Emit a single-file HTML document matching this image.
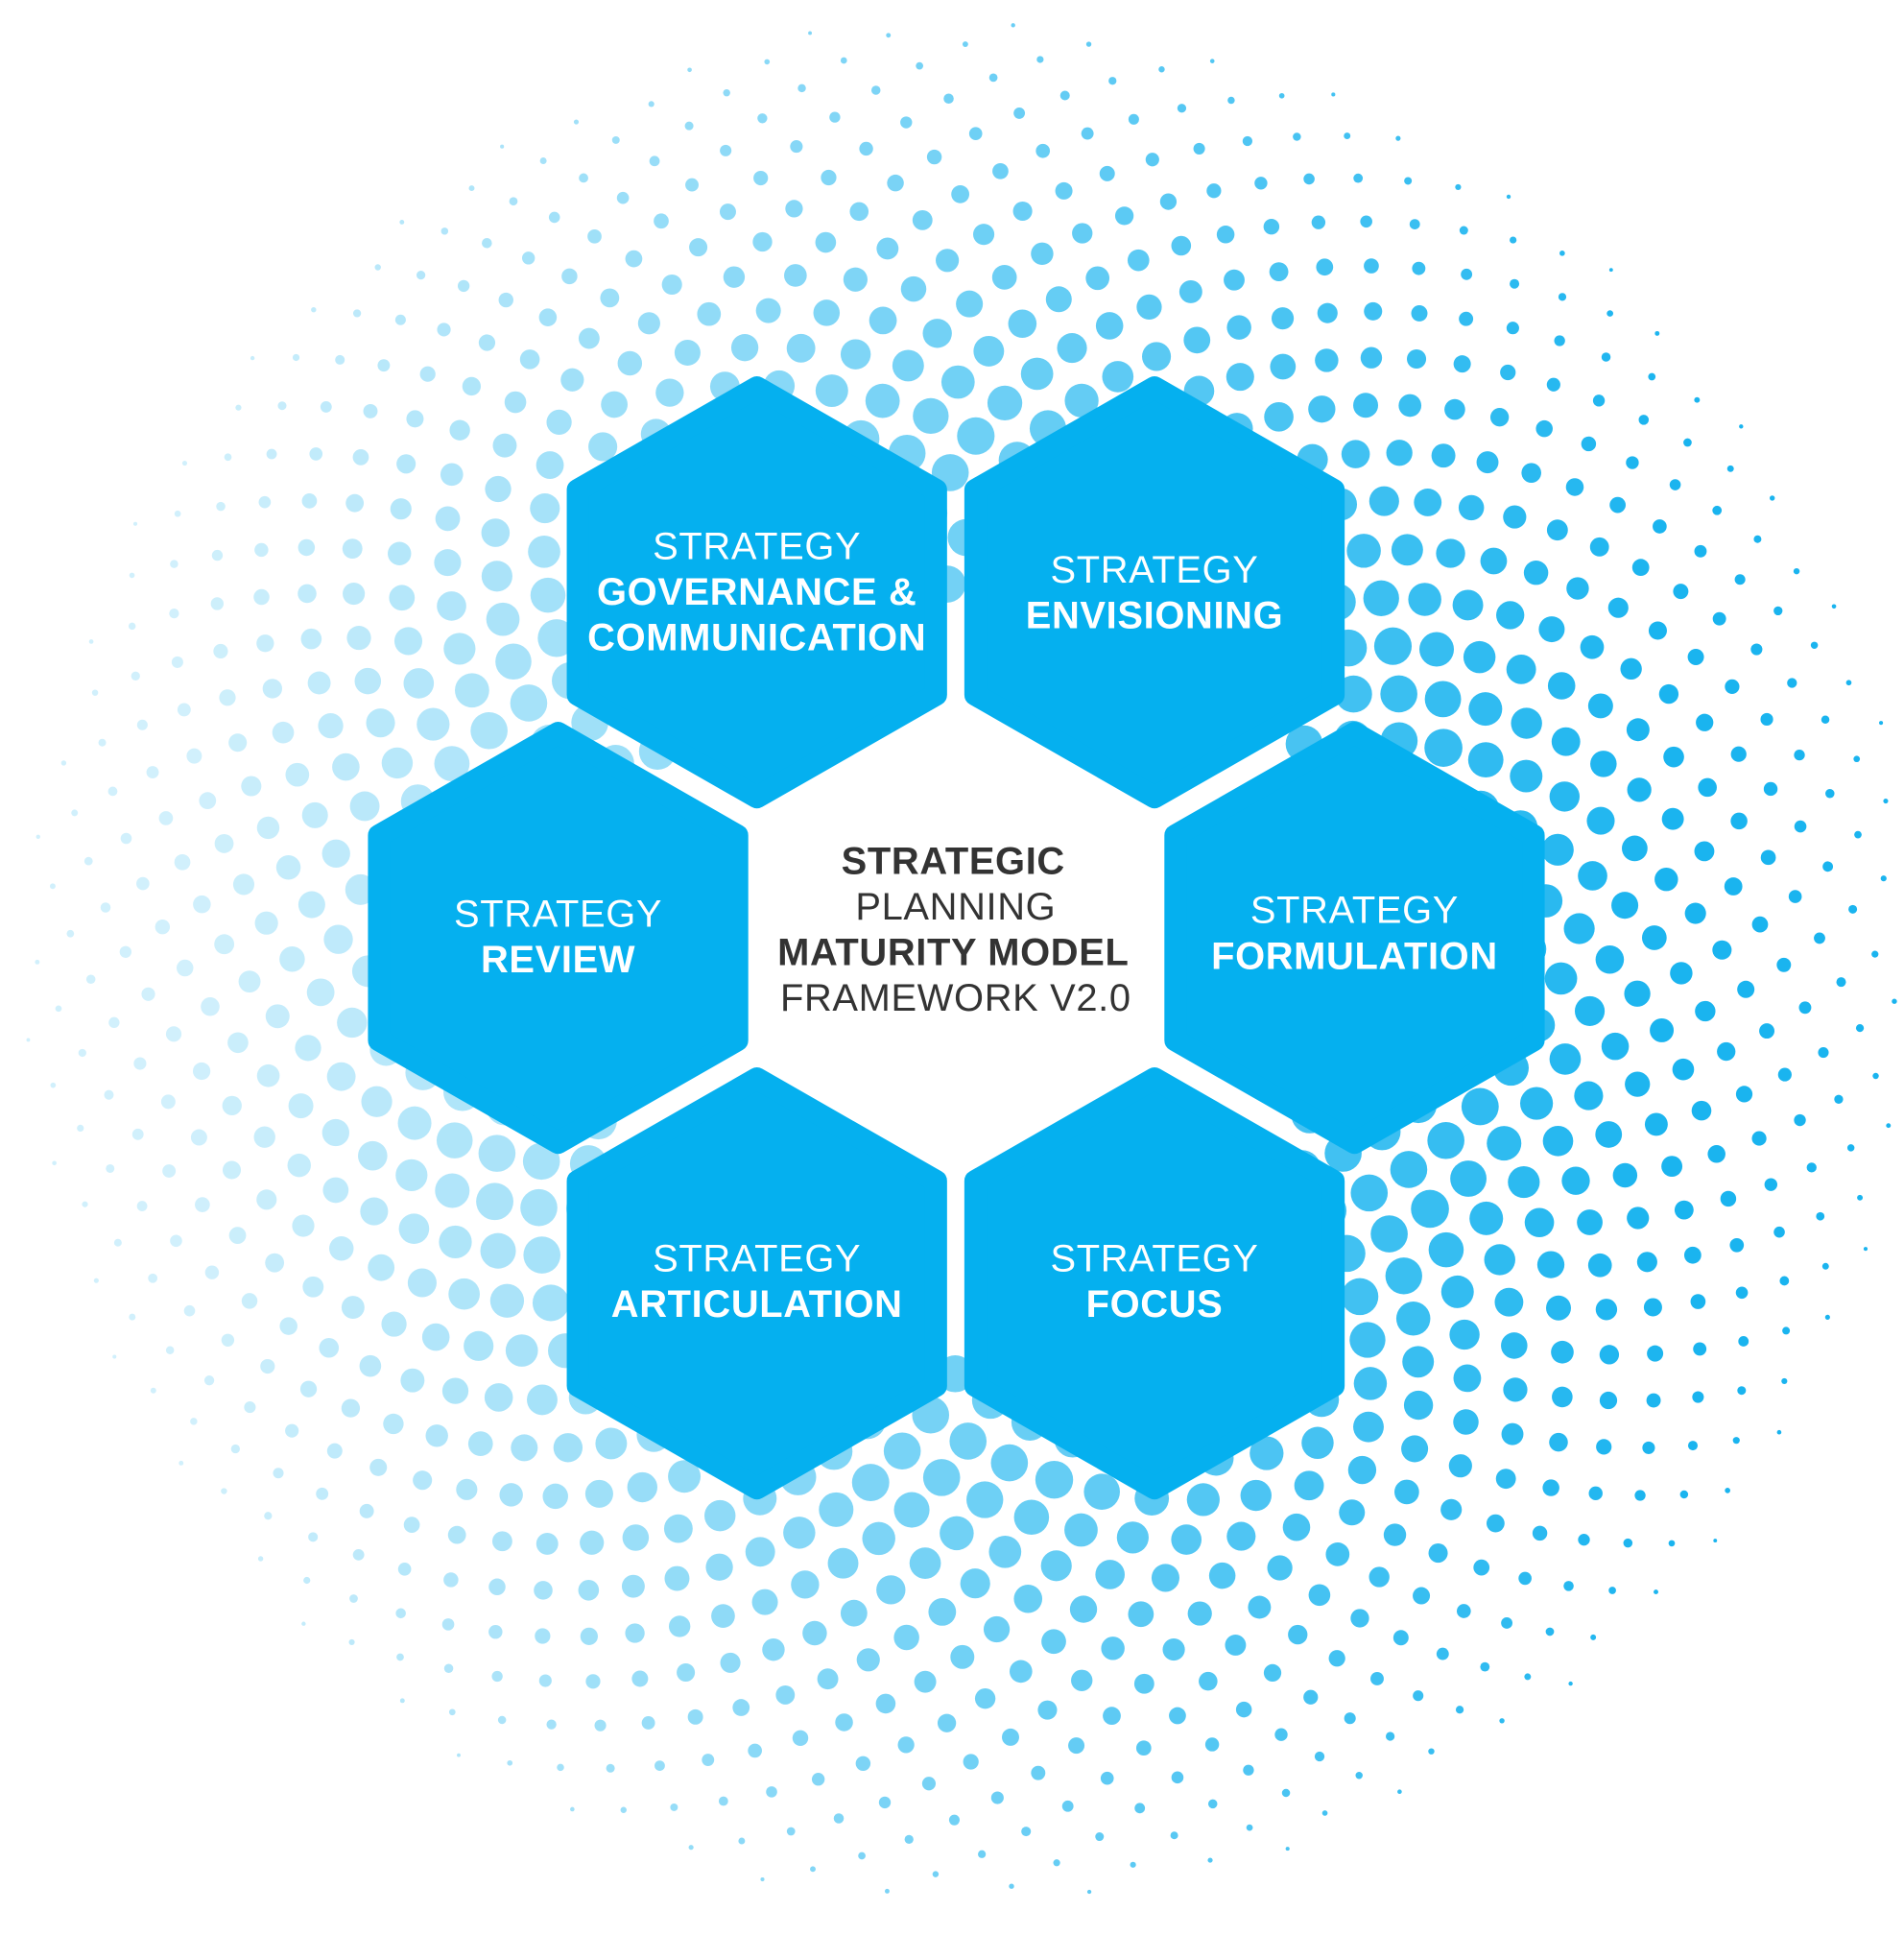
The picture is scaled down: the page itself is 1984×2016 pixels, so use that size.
<!DOCTYPE html>
<html><head><meta charset="utf-8"><style>
html,body{margin:0;padding:0;background:#fff;width:1984px;height:2016px;overflow:hidden}
svg{display:block}
text{font-family:"Liberation Sans",sans-serif;text-anchor:middle}
.w{fill:#fff;font-size:31px;letter-spacing:0.5px}
.b{font-weight:bold}
.d{fill:#333;font-size:31px;letter-spacing:0.5px}
</style></head><body>
<svg id="s" width="1984" height="2016" viewBox="0 0 1542 1568" preserveAspectRatio="none" xmlns="http://www.w3.org/2000/svg">
<g id="dots"></g>
<g id="hex" fill="#05b0ef" stroke="#05b0ef" stroke-width="18" stroke-linejoin="round"></g>
<g>
<text class="w" x="613" y="453">STRATEGY</text>
<text class="w b" x="613" y="490">GOVERNANCE &amp;</text>
<text class="w b" x="613" y="527">COMMUNICATION</text>
<text class="w" x="935" y="472">STRATEGY</text>
<text class="w b" x="935" y="509">ENVISIONING</text>
<text class="w" x="452" y="751">STRATEGY</text>
<text class="w b" x="452" y="788">REVIEW</text>
<text class="w" x="1097" y="748">STRATEGY</text>
<text class="w b" x="1097" y="785">FORMULATION</text>
<text class="w" x="613" y="1030">STRATEGY</text>
<text class="w b" x="613" y="1067">ARTICULATION</text>
<text class="w" x="935" y="1030">STRATEGY</text>
<text class="w b" x="935" y="1067">FOCUS</text>
<text class="d b" x="772" y="708">STRATEGIC</text>
<text class="d" x="774" y="745">PLANNING</text>
<text class="d b" x="772" y="782">MATURITY MODEL</text>
<text class="d" x="774" y="819">FRAMEWORK V2.0</text>
</g>
<script>
(function(){
var NS="http://www.w3.org/2000/svg";
var g=document.getElementById("dots");
var cx=785,cy=780,ga=Math.PI*(3-Math.sqrt(5));
for(var i=0;i<1400;i++){
 var r=21*Math.sqrt(i);
 if(r>765)break;
 if(r<300)continue;
 var a=i*ga;
 var x=cx+r*Math.cos(a),y=cy+r*Math.sin(a);
 var sz;
 if(r<420) sz=15; else sz=Math.max(1,14*(1-(r-420)/345)+1.5);
 var op=0.2+0.8*Math.min(1,Math.max(0,(x-150)/1200));
 var c=document.createElementNS(NS,"circle");
 c.setAttribute("cx",x.toFixed(1));c.setAttribute("cy",y.toFixed(1));
 c.setAttribute("r",sz.toFixed(1));
 c.setAttribute("fill","#1ab4ef");c.setAttribute("fill-opacity",op.toFixed(2));
 g.appendChild(c);
}
var h=document.getElementById("hex");
var cs=[[613,480],[935,480],[452,760],[1097,760],[613,1040],[935,1040]];
var W=145,H=166;
cs.forEach(function(p){
 var pts=[[0,-H],[W,-H/2],[W,H/2],[0,H],[-W,H/2],[-W,-H/2]].map(function(q){return (p[0]+q[0])+","+(p[1]+q[1]);}).join(" ");
 var e=document.createElementNS(NS,"polygon");e.setAttribute("points",pts);h.appendChild(e);
});
})();
</script>
</svg>
</body></html>
